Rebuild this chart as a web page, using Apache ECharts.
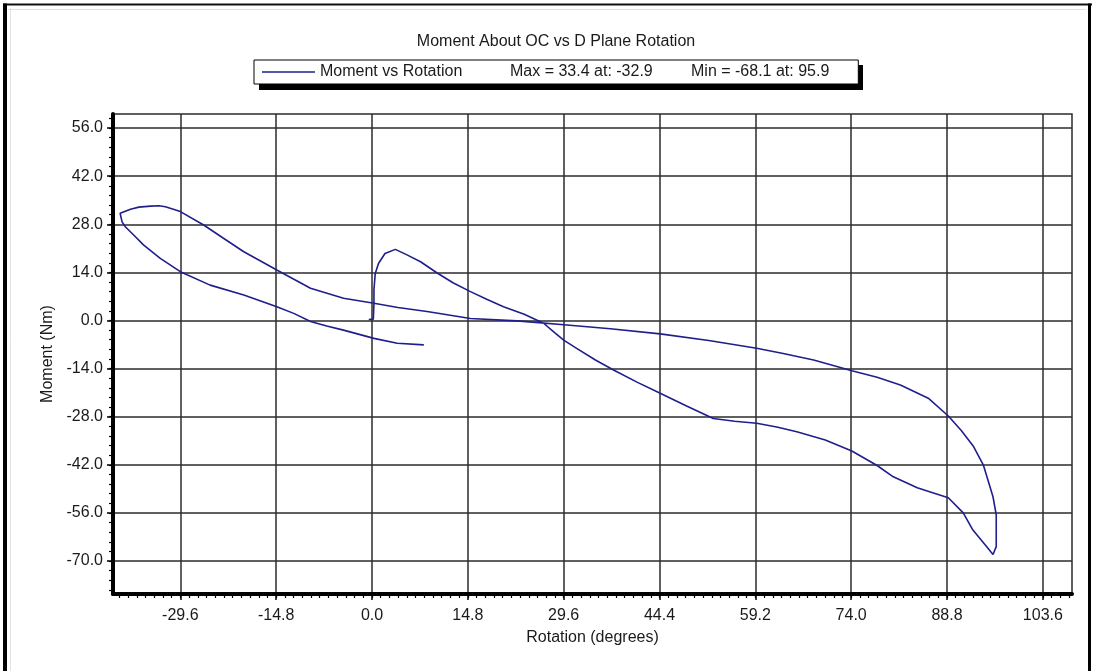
<!DOCTYPE html>
<html><head><meta charset="utf-8">
<script src="https://cdn.jsdelivr.net/npm/echarts@6/dist/echarts.min.js"></script>
<style>html,body{margin:0;padding:0;background:#fff}#c{width:1094px;height:671px}</style>
</head><body><div id="c"></div>
<script>
// ---- data ----
const rotation = [-0.5,0.2,0.3,0.3,0.5,1.0,2.0,3.6,5.4,7.5,10.0,12.5,15.2,17.8,20.3,23.5,26.5,28.2,29.6,31.6,34.5,37.3,41.0,44.5,48.5,52.7,56.0,59.4,62.5,65.6,70.0,74.1,78.0,80.5,84.2,86.7,89.0,91.3,92.8,94.9,95.9,96.4,96.4,95.9,94.4,92.9,91.0,89.0,85.9,81.6,78.0,74.1,68.2,63.5,59.4,52.0,44.5,36.8,30.1,22.4,15.2,8.5,4.0,0.3,-4.4,-9.5,-14.7,-19.8,-23.0,-26.0,-29.6,-31.9,-32.9,-34.2,-36.0,-37.3,-38.9,-38.6,-38.1,-36.5,-35.3,-32.7,-29.6,-25.0,-19.8,-14.7,-12.0,-9.5,-7.0,-4.4,0.3,3.9,8.0];
const moment = [0.3,0.4,5.0,9.0,13.7,16.6,19.5,20.7,19.1,17.1,13.9,11.0,8.4,6.1,4.0,1.8,-0.8,-3.5,-5.7,-8.1,-11.5,-14.4,-18.0,-21.2,-24.8,-28.5,-29.3,-29.9,-31.0,-32.4,-34.8,-38.0,-42.2,-45.5,-48.7,-50.2,-51.6,-56.0,-61.0,-65.8,-68.1,-65.8,-56.6,-51.3,-42.0,-36.7,-32.0,-27.8,-22.6,-18.8,-16.5,-14.6,-11.5,-9.6,-8.1,-5.8,-3.9,-2.4,-1.3,-0.1,0.6,2.6,3.8,5.0,6.5,9.4,14.7,20.0,24.0,27.8,31.7,33.1,33.4,33.3,33.0,32.4,31.2,28.7,27.3,24.3,22.0,18.1,14.2,10.3,7.4,4.0,2.0,-0.3,-1.6,-2.8,-5.2,-6.6,-7.1];
const xTickLabels = [-29.6,-14.8,0.0,14.8,29.6,44.4,59.2,74.0,88.8,103.6];
const yTickLabels = [56.0,42.0,28.0,14.0,0.0,-14.0,-28.0,-42.0,-56.0,-70.0];
const titleText = 'Moment About OC vs D Plane Rotation';
const seriesName = 'Moment vs Rotation';
const xName = 'Rotation (degrees)';
const yName = 'Moment (Nm)';

// ---- derived ----
const data = rotation.map((r, i) => [r, moment[i]]);
let iMax = 0, iMin = 0;
moment.forEach((v, i) => { if (v > moment[iMax]) iMax = i; if (v < moment[iMin]) iMin = i; });
const maxText = 'Max = ' + moment[iMax].toFixed(1) + ' at: ' + rotation[iMax].toFixed(1);
const minText = 'Min = ' + moment[iMin].toFixed(1) + ' at: ' + rotation[iMin].toFixed(1);

const X_MIN = -40, X_MAX = 108.1, Y_MIN = -79.6, Y_MAX = 60.1;
function minorTicks(major, step, lo, hi) {
  const out = [];
  const base = major[0];
  for (let k = Math.ceil((lo - base) / step); base + k * step <= hi; k++) out.push(+(base + k * step).toFixed(4));
  return out;
}
const xMinor = minorTicks(xTickLabels, 14.8 / 11, X_MIN, X_MAX);
const yMinor = minorTicks(yTickLabels, 14 / 5, Y_MIN, Y_MAX);

const FONT = '"Liberation Sans", Arial, sans-serif';
const FS = 16;
const TXT = '#1a1a1a';
const LINE = '#1f1f8c';
const GRIDC = '#2b2b2b';

const chart = echarts.init(document.getElementById('c'), null, { renderer: 'canvas' });
chart.setOption({
  backgroundColor: '#fff',
  animation: false,
  textStyle: { fontFamily: FONT },
  grid: { left: 113, right: 22, top: 114, bottom: 77, show: true, borderColor: GRIDC, borderWidth: 1.5, backgroundColor: '#fff' },
  legend: {
    left: 254, top: 60, z: 10,
    itemWidth: 53, itemHeight: 1.6, icon: 'rect',
    padding: [4, 29, 4, 8],
    backgroundColor: '#fff', borderColor: '#000', borderWidth: 1,
    selectedMode: false,
    textStyle: {
      fontSize: FS, color: TXT, fontFamily: FONT,
      rich: {
        a: { width: 190, fontSize: FS, color: TXT, fontFamily: FONT },
        b: { width: 181, fontSize: FS, color: TXT, fontFamily: FONT },
        c: { fontSize: FS, color: TXT, fontFamily: FONT }
      }
    },
    formatter: n => '{a|' + n + '}{b|' + maxText + '}{c|' + minText + '}',
    data: [seriesName]
  },
  xAxis: [{
    type: 'value', min: X_MIN, max: X_MAX, position: 'bottom',
    name: xName, nameLocation: 'middle', nameGap: 36,
    nameTextStyle: { fontSize: FS, color: TXT, fontFamily: FONT },
    axisLine: { show: true, onZero: false, lineStyle: { color: '#000', width: 4 } },
    axisTick: { show: true, length: 6, inside: false, customValues: xTickLabels, lineStyle: { color: '#000', width: 1.5 } },
    axisLabel: { show: true, margin: 14, customValues: xTickLabels, formatter: v => v.toFixed(1), fontSize: FS, color: TXT, fontFamily: FONT },
    splitLine: { show: true, lineStyle: { color: GRIDC, width: 1.5 } }
  }, {
    type: 'value', min: X_MIN, max: X_MAX, position: 'bottom', offset: 0,
    axisLine: { show: false, onZero: false },
    axisTick: { show: true, length: 4, customValues: xMinor, lineStyle: { color: '#000', width: 1.2 } },
    axisLabel: { show: false },
    splitLine: { show: false }
  }],
  yAxis: [{
    type: 'value', min: Y_MIN, max: Y_MAX, position: 'left',
    name: yName, nameLocation: 'middle', nameGap: 56, nameRotate: 90,
    nameTextStyle: { fontSize: FS, color: TXT, fontFamily: FONT },
    axisLine: { show: true, onZero: false, lineStyle: { color: '#000', width: 4 } },
    axisTick: { show: true, length: 6, customValues: yTickLabels, lineStyle: { color: '#000', width: 1.5 } },
    axisLabel: { show: true, margin: 10, customValues: yTickLabels, formatter: v => v.toFixed(1), fontSize: FS, color: TXT, fontFamily: FONT },
    splitLine: { show: true, lineStyle: { color: GRIDC, width: 1.5 } }
  }, {
    type: 'value', min: Y_MIN, max: Y_MAX, position: 'left', offset: 0,
    axisLine: { show: false, onZero: false },
    axisTick: { show: true, length: 4, customValues: yMinor, lineStyle: { color: '#000', width: 1.2 } },
    axisLabel: { show: false },
    splitLine: { show: false }
  }],
  series: [{
    name: seriesName, type: 'line', xAxisIndex: 0, yAxisIndex: 0,
    data: data, showSymbol: false, symbol: 'none', smooth: false, clip: true,
    lineStyle: { color: LINE, width: 1.6 }, itemStyle: { color: LINE }, z: 5
  }],
  graphic: [
    { type: 'line', silent: true, shape: { x1: 3, y1: 4.5, x2: 1092, y2: 4.5 }, style: { stroke: '#111', lineWidth: 2 } },
    { type: 'line', silent: true, shape: { x1: 5, y1: 3.5, x2: 5, y2: 671 }, style: { stroke: '#000', lineWidth: 4 } },
    { type: 'line', silent: true, shape: { x1: 10.5, y1: 8, x2: 10.5, y2: 671 }, style: { stroke: '#e2e2e2', lineWidth: 1 } },
    { type: 'line', silent: true, shape: { x1: 8, y1: 9.5, x2: 1086, y2: 9.5 }, style: { stroke: '#e2e2e2', lineWidth: 1 } },
    { type: 'line', silent: true, shape: { x1: 1089.5, y1: 3.5, x2: 1089.5, y2: 671 }, style: { stroke: '#000', lineWidth: 3 } },
    { type: 'rect', silent: true, z: 1, shape: { x: 259, y: 65, width: 604, height: 25 }, style: { fill: '#000' } },
    { type: 'text', silent: true, x: 556, y: 42, style: { text: titleText, align: 'center', verticalAlign: 'middle', fontSize: FS, fill: TXT, fontFamily: FONT } }
  ]
});
</script></body></html>
